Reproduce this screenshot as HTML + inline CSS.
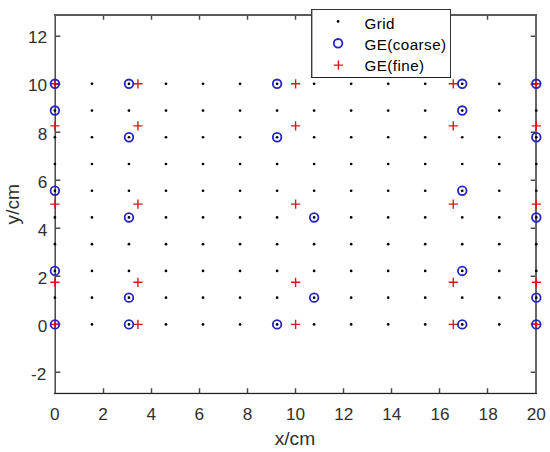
<!DOCTYPE html>
<html><head><meta charset="utf-8"><style>
html,body{margin:0;padding:0;background:#fff;width:550px;height:452px;overflow:hidden}
svg{display:block;font-family:"Liberation Sans",sans-serif}
</style></head><body>
<svg width="550" height="452" viewBox="0 0 550 452"><rect width="550" height="452" fill="#fff"/><g shape-rendering="crispEdges"><rect x="56" y="392" width="479" height="1" fill="#d8d8d8"/><rect x="54" y="394" width="483" height="1" fill="#e8e8e8"/><rect x="54" y="14" width="1" height="380" fill="#a0a0a0"/><rect x="55" y="14" width="1" height="380" fill="#4c4c4c"/><rect x="535" y="14" width="2" height="380" fill="#666"/><rect x="54" y="14" width="483" height="2" fill="#5a5a5a"/><rect x="54" y="393" width="483" height="1" fill="#222"/></g><path d="M103.50 393V388.3M103.50 16V19.8M151.50 393V388.3M151.50 16V19.8M199.50 393V388.3M199.50 16V19.8M247.50 393V388.3M247.50 16V19.8M295.50 393V388.3M295.50 16V19.8M343.50 393V388.3M343.50 16V19.8M391.50 393V388.3M391.50 16V19.8M439.50 393V388.3M439.50 16V19.8M487.50 393V388.3M487.50 16V19.8M56 372.30H60.3M535 372.30H530.7M56 324.30H60.3M535 324.30H530.7M56 276.30H60.3M535 276.30H530.7M56 228.30H60.3M535 228.30H530.7M56 180.30H60.3M535 180.30H530.7M56 132.30H60.3M535 132.30H530.7M56 84.30H60.3M535 84.30H530.7M56 36.30H60.3M535 36.30H530.7" stroke="#4a4a4a" stroke-width="1.5" fill="none"/><g fill="#000"><circle cx="54.90" cy="324.40" r="1.35"/><circle cx="54.90" cy="297.67" r="1.35"/><circle cx="54.90" cy="270.93" r="1.35"/><circle cx="54.90" cy="244.20" r="1.35"/><circle cx="54.90" cy="217.47" r="1.35"/><circle cx="54.90" cy="190.73" r="1.35"/><circle cx="54.90" cy="164.00" r="1.35"/><circle cx="54.90" cy="137.27" r="1.35"/><circle cx="54.90" cy="110.53" r="1.35"/><circle cx="54.90" cy="83.80" r="1.35"/><circle cx="91.93" cy="324.40" r="1.35"/><circle cx="91.93" cy="297.67" r="1.35"/><circle cx="91.93" cy="270.93" r="1.35"/><circle cx="91.93" cy="244.20" r="1.35"/><circle cx="91.93" cy="217.47" r="1.35"/><circle cx="91.93" cy="190.73" r="1.35"/><circle cx="91.93" cy="164.00" r="1.35"/><circle cx="91.93" cy="137.27" r="1.35"/><circle cx="91.93" cy="110.53" r="1.35"/><circle cx="91.93" cy="83.80" r="1.35"/><circle cx="128.96" cy="324.40" r="1.35"/><circle cx="128.96" cy="297.67" r="1.35"/><circle cx="128.96" cy="270.93" r="1.35"/><circle cx="128.96" cy="244.20" r="1.35"/><circle cx="128.96" cy="217.47" r="1.35"/><circle cx="128.96" cy="190.73" r="1.35"/><circle cx="128.96" cy="164.00" r="1.35"/><circle cx="128.96" cy="137.27" r="1.35"/><circle cx="128.96" cy="110.53" r="1.35"/><circle cx="128.96" cy="83.80" r="1.35"/><circle cx="165.99" cy="324.40" r="1.35"/><circle cx="165.99" cy="297.67" r="1.35"/><circle cx="165.99" cy="270.93" r="1.35"/><circle cx="165.99" cy="244.20" r="1.35"/><circle cx="165.99" cy="217.47" r="1.35"/><circle cx="165.99" cy="190.73" r="1.35"/><circle cx="165.99" cy="164.00" r="1.35"/><circle cx="165.99" cy="137.27" r="1.35"/><circle cx="165.99" cy="110.53" r="1.35"/><circle cx="165.99" cy="83.80" r="1.35"/><circle cx="203.02" cy="324.40" r="1.35"/><circle cx="203.02" cy="297.67" r="1.35"/><circle cx="203.02" cy="270.93" r="1.35"/><circle cx="203.02" cy="244.20" r="1.35"/><circle cx="203.02" cy="217.47" r="1.35"/><circle cx="203.02" cy="190.73" r="1.35"/><circle cx="203.02" cy="164.00" r="1.35"/><circle cx="203.02" cy="137.27" r="1.35"/><circle cx="203.02" cy="110.53" r="1.35"/><circle cx="203.02" cy="83.80" r="1.35"/><circle cx="240.05" cy="324.40" r="1.35"/><circle cx="240.05" cy="297.67" r="1.35"/><circle cx="240.05" cy="270.93" r="1.35"/><circle cx="240.05" cy="244.20" r="1.35"/><circle cx="240.05" cy="217.47" r="1.35"/><circle cx="240.05" cy="190.73" r="1.35"/><circle cx="240.05" cy="164.00" r="1.35"/><circle cx="240.05" cy="137.27" r="1.35"/><circle cx="240.05" cy="110.53" r="1.35"/><circle cx="240.05" cy="83.80" r="1.35"/><circle cx="277.08" cy="324.40" r="1.35"/><circle cx="277.08" cy="297.67" r="1.35"/><circle cx="277.08" cy="270.93" r="1.35"/><circle cx="277.08" cy="244.20" r="1.35"/><circle cx="277.08" cy="217.47" r="1.35"/><circle cx="277.08" cy="190.73" r="1.35"/><circle cx="277.08" cy="164.00" r="1.35"/><circle cx="277.08" cy="137.27" r="1.35"/><circle cx="277.08" cy="110.53" r="1.35"/><circle cx="277.08" cy="83.80" r="1.35"/><circle cx="314.12" cy="324.40" r="1.35"/><circle cx="314.12" cy="297.67" r="1.35"/><circle cx="314.12" cy="270.93" r="1.35"/><circle cx="314.12" cy="244.20" r="1.35"/><circle cx="314.12" cy="217.47" r="1.35"/><circle cx="314.12" cy="190.73" r="1.35"/><circle cx="314.12" cy="164.00" r="1.35"/><circle cx="314.12" cy="137.27" r="1.35"/><circle cx="314.12" cy="110.53" r="1.35"/><circle cx="314.12" cy="83.80" r="1.35"/><circle cx="351.15" cy="324.40" r="1.35"/><circle cx="351.15" cy="297.67" r="1.35"/><circle cx="351.15" cy="270.93" r="1.35"/><circle cx="351.15" cy="244.20" r="1.35"/><circle cx="351.15" cy="217.47" r="1.35"/><circle cx="351.15" cy="190.73" r="1.35"/><circle cx="351.15" cy="164.00" r="1.35"/><circle cx="351.15" cy="137.27" r="1.35"/><circle cx="351.15" cy="110.53" r="1.35"/><circle cx="351.15" cy="83.80" r="1.35"/><circle cx="388.18" cy="324.40" r="1.35"/><circle cx="388.18" cy="297.67" r="1.35"/><circle cx="388.18" cy="270.93" r="1.35"/><circle cx="388.18" cy="244.20" r="1.35"/><circle cx="388.18" cy="217.47" r="1.35"/><circle cx="388.18" cy="190.73" r="1.35"/><circle cx="388.18" cy="164.00" r="1.35"/><circle cx="388.18" cy="137.27" r="1.35"/><circle cx="388.18" cy="110.53" r="1.35"/><circle cx="388.18" cy="83.80" r="1.35"/><circle cx="425.21" cy="324.40" r="1.35"/><circle cx="425.21" cy="297.67" r="1.35"/><circle cx="425.21" cy="270.93" r="1.35"/><circle cx="425.21" cy="244.20" r="1.35"/><circle cx="425.21" cy="217.47" r="1.35"/><circle cx="425.21" cy="190.73" r="1.35"/><circle cx="425.21" cy="164.00" r="1.35"/><circle cx="425.21" cy="137.27" r="1.35"/><circle cx="425.21" cy="110.53" r="1.35"/><circle cx="425.21" cy="83.80" r="1.35"/><circle cx="462.24" cy="324.40" r="1.35"/><circle cx="462.24" cy="297.67" r="1.35"/><circle cx="462.24" cy="270.93" r="1.35"/><circle cx="462.24" cy="244.20" r="1.35"/><circle cx="462.24" cy="217.47" r="1.35"/><circle cx="462.24" cy="190.73" r="1.35"/><circle cx="462.24" cy="164.00" r="1.35"/><circle cx="462.24" cy="137.27" r="1.35"/><circle cx="462.24" cy="110.53" r="1.35"/><circle cx="462.24" cy="83.80" r="1.35"/><circle cx="499.27" cy="324.40" r="1.35"/><circle cx="499.27" cy="297.67" r="1.35"/><circle cx="499.27" cy="270.93" r="1.35"/><circle cx="499.27" cy="244.20" r="1.35"/><circle cx="499.27" cy="217.47" r="1.35"/><circle cx="499.27" cy="190.73" r="1.35"/><circle cx="499.27" cy="164.00" r="1.35"/><circle cx="499.27" cy="137.27" r="1.35"/><circle cx="499.27" cy="110.53" r="1.35"/><circle cx="499.27" cy="83.80" r="1.35"/><circle cx="536.30" cy="324.40" r="1.35"/><circle cx="536.30" cy="297.67" r="1.35"/><circle cx="536.30" cy="270.93" r="1.35"/><circle cx="536.30" cy="244.20" r="1.35"/><circle cx="536.30" cy="217.47" r="1.35"/><circle cx="536.30" cy="190.73" r="1.35"/><circle cx="536.30" cy="164.00" r="1.35"/><circle cx="536.30" cy="137.27" r="1.35"/><circle cx="536.30" cy="110.53" r="1.35"/><circle cx="536.30" cy="83.80" r="1.35"/></g><path d="M50.30 324.40H59.50M54.90 319.80V329.00M50.30 282.29H59.50M54.90 277.69V286.89M50.30 204.10H59.50M54.90 199.50V208.70M50.30 125.91H59.50M54.90 121.31V130.50M50.30 83.80H59.50M54.90 79.20V88.40M133.34 324.40H142.54M137.94 319.80V329.00M133.34 282.29H142.54M137.94 277.69V286.89M133.34 204.10H142.54M137.94 199.50V208.70M133.34 125.91H142.54M137.94 121.31V130.50M133.34 83.80H142.54M137.94 79.20V88.40M291.00 324.40H300.20M295.60 319.80V329.00M291.00 282.29H300.20M295.60 277.69V286.89M291.00 204.10H300.20M295.60 199.50V208.70M291.00 125.91H300.20M295.60 121.31V130.50M291.00 83.80H300.20M295.60 79.20V88.40M448.66 324.40H457.86M453.26 319.80V329.00M448.66 282.29H457.86M453.26 277.69V286.89M448.66 204.10H457.86M453.26 199.50V208.70M448.66 125.91H457.86M453.26 121.31V130.50M448.66 83.80H457.86M453.26 79.20V88.40M531.70 324.40H540.90M536.30 319.80V329.00M531.70 282.29H540.90M536.30 277.69V286.89M531.70 204.10H540.90M536.30 199.50V208.70M531.70 125.91H540.90M536.30 121.31V130.50M531.70 83.80H540.90M536.30 79.20V88.40" stroke="#d81818" stroke-width="1.4" fill="none"/><g fill="none" stroke="#2424c4" stroke-width="1.8"><circle cx="54.90" cy="83.80" r="4.3"/><circle cx="54.90" cy="110.53" r="4.3"/><circle cx="54.90" cy="190.73" r="4.3"/><circle cx="54.90" cy="270.93" r="4.3"/><circle cx="54.90" cy="324.40" r="4.3"/><circle cx="128.96" cy="83.80" r="4.3"/><circle cx="128.96" cy="137.27" r="4.3"/><circle cx="128.96" cy="217.47" r="4.3"/><circle cx="128.96" cy="297.67" r="4.3"/><circle cx="128.96" cy="324.40" r="4.3"/><circle cx="277.08" cy="83.80" r="4.3"/><circle cx="277.08" cy="137.27" r="4.3"/><circle cx="277.08" cy="324.40" r="4.3"/><circle cx="314.12" cy="217.47" r="4.3"/><circle cx="314.12" cy="297.67" r="4.3"/><circle cx="462.24" cy="83.80" r="4.3"/><circle cx="462.24" cy="110.53" r="4.3"/><circle cx="462.24" cy="190.73" r="4.3"/><circle cx="462.24" cy="270.93" r="4.3"/><circle cx="462.24" cy="324.40" r="4.3"/><circle cx="536.30" cy="83.80" r="4.3"/><circle cx="536.30" cy="137.27" r="4.3"/><circle cx="536.30" cy="217.47" r="4.3"/><circle cx="536.30" cy="297.67" r="4.3"/><circle cx="536.30" cy="324.40" r="4.3"/></g><g font-family="Liberation Sans" font-size="17.2" fill="#303030"><text x="54.90" y="419.5" text-anchor="middle">0</text><text x="103.04" y="419.5" text-anchor="middle">2</text><text x="151.18" y="419.5" text-anchor="middle">4</text><text x="199.32" y="419.5" text-anchor="middle">6</text><text x="247.46" y="419.5" text-anchor="middle">8</text><text x="295.60" y="419.5" text-anchor="middle">10</text><text x="343.74" y="419.5" text-anchor="middle">12</text><text x="391.88" y="419.5" text-anchor="middle">14</text><text x="440.02" y="419.5" text-anchor="middle">16</text><text x="488.16" y="419.5" text-anchor="middle">18</text><text x="536.30" y="419.5" text-anchor="middle">20</text><text x="46.4" y="380.12" text-anchor="end">-2</text><text x="47.2" y="332.00" text-anchor="end">0</text><text x="47.2" y="283.88" text-anchor="end">2</text><text x="47.2" y="235.76" text-anchor="end">4</text><text x="47.2" y="187.64" text-anchor="end">6</text><text x="47.2" y="139.52" text-anchor="end">8</text><text x="47.2" y="91.40" text-anchor="end">10</text><text x="47.2" y="43.28" text-anchor="end">12</text></g><text x="294.9" y="445.3" text-anchor="middle" font-family="Liberation Sans" font-size="19.2" fill="#303030">x/cm</text><text transform="translate(19.2 204.2) rotate(-90)" text-anchor="middle" font-family="Liberation Sans" font-size="19.2" fill="#303030">y/cm</text><g shape-rendering="crispEdges"><rect x="311" y="9" width="140" height="69" fill="#fff"/><rect x="311" y="9" width="1" height="69" fill="#3a3a3a"/><rect x="312" y="10" width="1" height="67" fill="#b0b0b0"/><rect x="450" y="9" width="1" height="69" fill="#333"/><rect x="311" y="9" width="140" height="1" fill="#333"/><rect x="311" y="77" width="140" height="1" fill="#222"/></g><circle cx="338.1" cy="21.4" r="1.35" fill="#000"/><circle cx="338.1" cy="43.3" r="4.3" fill="none" stroke="#2424c4" stroke-width="1.8"/><path d="M333.80 65.10H343.00M338.40 60.50V69.70" stroke="#d81818" stroke-width="1.4" fill="none"/><g font-family="Liberation Sans" font-size="15.2" fill="#000" letter-spacing="0.45"><text x="364.4" y="28.9">Grid</text><text x="364.4" y="50.3">GE(coarse)</text><text x="364.4" y="71.3">GE(fine)</text></g></svg>
</body></html>
